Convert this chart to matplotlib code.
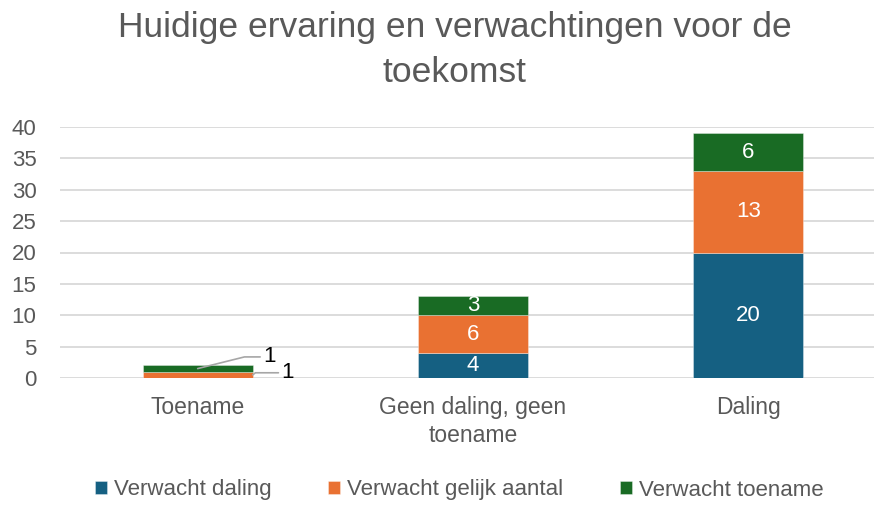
import matplotlib.pyplot as plt
import numpy as np

plt.rcParams['font.family'] = ['Liberation Sans', 'DejaVu Sans']

categories = ["Toename", "Geen daling, geen\ntoename", "Daling"]
series = ["Verwacht daling", "Verwacht gelijk aantal", "Verwacht toename"]
values = {
    "Verwacht daling": [0, 4, 20],
    "Verwacht gelijk aantal": [1, 6, 13],
    "Verwacht toename": [1, 3, 6],
}
colors = ["#156082", "#E97132", "#196B24"]
title = "Huidige ervaring en verwachtingen voor de\ntoekomst"

fig = plt.figure(figsize=(8.74, 5.05), dpi=100)
ax = fig.add_axes([60 / 874, 1 - 378 / 505, 1 - 60 / 874, (378 - 127) / 505])

x = np.arange(len(categories))
bottom = np.zeros(len(categories))
for name, col in zip(series, colors):
    vals = np.array(values[name])
    ax.bar(x, vals, 0.4, bottom=bottom, color=col, label=name,
           edgecolor=(1, 1, 1, 0.4), linewidth=0.6, zorder=3)
    for i, (v, b) in enumerate(zip(vals, bottom)):
        if v >= 3:
            ax.text(x[i], b + v / 2, str(v), ha='center', va='center',
                    color='white', fontsize=16, zorder=4)
    bottom += vals

# small labels on the first bar with leader lines
g = values["Verwacht gelijk aantal"][0]
t = values["Verwacht toename"][0]
ax.annotate(str(t), xy=(x[0], g + t / 2), xytext=(47, 8.4), textcoords='offset points',
            fontsize=16, color='black', ha='left', va='center',
            arrowprops=dict(arrowstyle='-', color='#A6A6A6', lw=1.2,
                            shrinkA=0, shrinkB=0,
                            connectionstyle='angle,angleA=0,angleB=14,rad=0'))
ax.annotate(str(g), xy=(x[0] + 0.2, g / 2), xytext=(20.5, 1.5), textcoords='offset points',
            fontsize=16, color='black', ha='left', va='center',
            arrowprops=dict(arrowstyle='-', color='#A6A6A6', lw=1.2,
                            shrinkA=0, shrinkB=0,
                            connectionstyle='angle,angleA=0,angleB=38,rad=0'))

ax.set_xlim(-0.5, 2.5 - 12 / 275.25)
ax.set_ylim(0, 40)
ax.set_yticks(np.arange(0, 41, 5))
ax.set_xticks(x)
ax.set_xticklabels(categories, fontsize=16.5, color='#595959', linespacing=1.3)
ax.tick_params(axis='y', labelsize=16, labelcolor='#595959', length=0, pad=17)
ax.tick_params(axis='x', length=0, pad=13)
for s in ax.spines.values():
    s.set_visible(False)
ax.grid(axis='y', color='#D9D9D9', linewidth=1.3, zorder=0)
ax.set_axisbelow(True)

fig.text(0.52, 1 - 50 / 505, title, ha='center', va='center', fontsize=25.5,
         color='#595959', linespacing=1.45)

fig.legend(loc='center', bbox_to_anchor=(459 / 874, 1 - 490 / 505), ncol=3, frameon=False,
           fontsize=16, labelcolor='#595959', handlelength=0.55, handleheight=0.55,
           handletextpad=0.3, columnspacing=2.55)

fig.savefig("out.png", dpi=100)
